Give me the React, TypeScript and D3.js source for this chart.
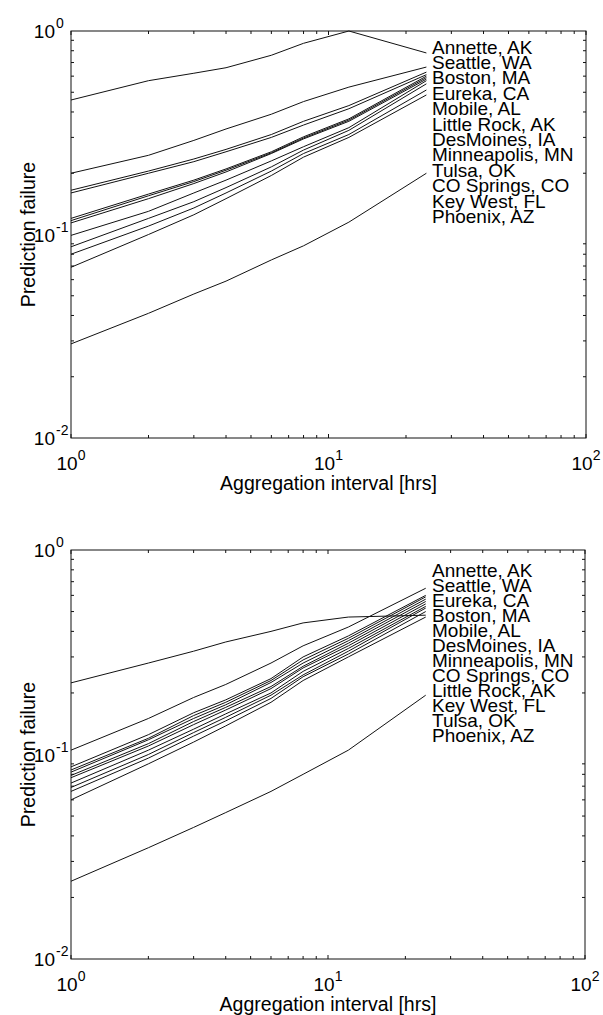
import React from "react";
import * as d3 from "d3";

const hours = [1, 2, 3, 4, 6, 8, 12, 24];

const topLabels = [
  "Annette, AK", "Seattle, WA", "Boston, MA", "Eureka, CA", "Mobile, AL", "Little Rock, AK",
  "DesMoines, IA", "Minneapolis, MN", "Tulsa, OK", "CO Springs, CO", "Key West, FL", "Phoenix, AZ",
];
const topValues = [
  [0.458, 0.57, 0.62, 0.66, 0.76, 0.87, 1.0, 0.78],
  [0.2, 0.245, 0.29, 0.33, 0.39, 0.45, 0.53, 0.665],
  [0.165, 0.205, 0.235, 0.262, 0.31, 0.36, 0.43, 0.628],
  [0.16, 0.2, 0.228, 0.255, 0.3, 0.345, 0.415, 0.61],
  [0.12, 0.158, 0.185, 0.21, 0.255, 0.302, 0.37, 0.6],
  [0.117, 0.155, 0.182, 0.207, 0.252, 0.298, 0.365, 0.59],
  [0.114, 0.15, 0.178, 0.203, 0.25, 0.295, 0.36, 0.58],
  [0.099, 0.13, 0.16, 0.185, 0.23, 0.27, 0.335, 0.57],
  [0.087, 0.12, 0.145, 0.17, 0.215, 0.26, 0.325, 0.55],
  [0.08, 0.11, 0.135, 0.16, 0.205, 0.25, 0.31, 0.513],
  [0.069, 0.1, 0.125, 0.15, 0.195, 0.24, 0.3, 0.485],
  [0.029, 0.041, 0.051, 0.059, 0.075, 0.088, 0.115, 0.2],
];

const bottomLabels = [
  "Annette, AK", "Seattle, WA", "Eureka, CA", "Boston, MA", "Mobile, AL", "DesMoines, IA",
  "Minneapolis, MN", "CO Springs, CO", "Little Rock, AK", "Key West, FL", "Tulsa, OK", "Phoenix, AZ",
];
const bottomValues = [
  [0.224, 0.28, 0.32, 0.355, 0.4, 0.44, 0.47, 0.48],
  [0.105, 0.15, 0.19, 0.22, 0.28, 0.34, 0.42, 0.65],
  [0.087, 0.125, 0.16, 0.185, 0.235, 0.3, 0.38, 0.6],
  [0.084, 0.12, 0.155, 0.18, 0.23, 0.29, 0.37, 0.59],
  [0.082, 0.118, 0.15, 0.175, 0.225, 0.28, 0.36, 0.575],
  [0.079, 0.113, 0.145, 0.17, 0.215, 0.27, 0.35, 0.56],
  [0.077, 0.11, 0.14, 0.165, 0.21, 0.265, 0.34, 0.545],
  [0.0725, 0.105, 0.133, 0.158, 0.2, 0.255, 0.33, 0.53],
  [0.069, 0.1, 0.128, 0.152, 0.195, 0.245, 0.32, 0.52],
  [0.066, 0.096, 0.123, 0.146, 0.188, 0.24, 0.31, 0.5],
  [0.06, 0.09, 0.115, 0.138, 0.18, 0.23, 0.3, 0.47],
  [0.024, 0.035, 0.044, 0.052, 0.066, 0.08, 0.105, 0.195],
];

const xMajor = [1, 10, 100];
const xMajorExp = ["0", "1", "2"];
const yMajor = [0.01, 0.1, 1];
const yMajorExp = ["-2", "-1", "0"];
const xLabel = "Aggregation interval [hrs]";
const yLabel = "Prediction failure";

const FONT = "'Liberation Sans', Arial, Helvetica, sans-serif";

function minorTicks(lo: number, hi: number) {
  const out: number[] = [];
  for (let d = lo; d < hi; d *= 10) {
    for (let k = 2; k <= 9; k++) out.push(d * k);
  }
  return out;
}

type PanelProps = {
  left: number; right: number; top: number; bottom: number;
  labels: string[]; values: number[][];
  labelX: number; labelY0: number; labelStep: number;
};

function Panel(p: PanelProps) {
  const x = d3.scaleLog().domain([1, 100]).range([p.left, p.right]);
  const y = d3.scaleLog().domain([0.01, 1]).range([p.bottom, p.top]);
  const line = d3.line<number>().x((_, i) => x(hours[i])).y((v) => y(v));
  const xMin = minorTicks(1, 100);
  const yMin = minorTicks(0.01, 1);
  const tl = 4;
  const ts = 3;
  return (
    <g>
      {p.values.map((vals, i) => (
        <path key={i} d={line(vals) || ""} fill="none" stroke="#111" strokeWidth={1} />
      ))}
      <rect x={p.left} y={p.top} width={p.right - p.left} height={p.bottom - p.top}
        fill="none" stroke="#111" strokeWidth={1} />
      {xMin.map((t) => (
        <g key={"xm" + t}>
          <line x1={x(t)} x2={x(t)} y1={p.bottom} y2={p.bottom - ts} stroke="#111" />
          <line x1={x(t)} x2={x(t)} y1={p.top} y2={p.top + ts} stroke="#111" />
        </g>
      ))}
      {yMin.map((t) => (
        <g key={"ym" + t}>
          <line x1={p.left} x2={p.left + ts} y1={y(t)} y2={y(t)} stroke="#111" />
          <line x1={p.right} x2={p.right - ts} y1={y(t)} y2={y(t)} stroke="#111" />
        </g>
      ))}
      {xMajor.map((t) => (
        <g key={"xM" + t}>
          <line x1={x(t)} x2={x(t)} y1={p.bottom} y2={p.bottom - tl} stroke="#111" />
          <line x1={x(t)} x2={x(t)} y1={p.top} y2={p.top + tl} stroke="#111" />
        </g>
      ))}
      {xMajor.map((t, i) => (
        <text key={"xl" + t} x={x(t)} y={p.bottom + 32} textAnchor="middle"
          fontFamily={FONT} fontSize={19} fill="#000">
          <tspan>10</tspan>
          <tspan dy={-10} fontSize={14}>{xMajorExp[i]}</tspan>
        </text>
      ))}
      {yMajor.map((t, i) => (
        <g key={"yl" + t}>
          <text x={55} y={y(t) + 7} textAnchor="end" fontFamily={FONT} fontSize={19} fill="#000">10</text>
          <text x={56} y={y(t) - 3} textAnchor="start" fontFamily={FONT} fontSize={14} fill="#000">{yMajorExp[i]}</text>
        </g>
      ))}
      <text x={(p.left + p.right) / 2} y={p.bottom + 52} textAnchor="middle"
        fontFamily={FONT} fontSize={19.5} fill="#000">{xLabel}</text>
      <text transform={`translate(35,${(p.top + p.bottom) / 2}) rotate(-90)`} textAnchor="middle"
        fontFamily={FONT} fontSize={19.5} fill="#000">{yLabel}</text>
      {p.labels.map((l, i) => (
        <text key={"lab" + i} x={p.labelX} y={p.labelY0 + i * p.labelStep}
          fontFamily={FONT} fontSize={19} fill="#000">{l}</text>
      ))}
    </g>
  );
}

export default function App() {
  return (
    <svg width={603} height={1015} style={{ position: "absolute", left: 0, top: 0, background: "#fff" }}>
      <rect x={0} y={0} width={603} height={1015} fill="#fff" />
      <Panel left={71} right={586} top={31} bottom={438}
        labels={topLabels} values={topValues}
        labelX={432} labelY0={53.5} labelStep={15.4} />
      <Panel left={71} right={585} top={550} bottom={959}
        labels={bottomLabels} values={bottomValues}
        labelX={432} labelY0={577} labelStep={15} />
    </svg>
  );
}
